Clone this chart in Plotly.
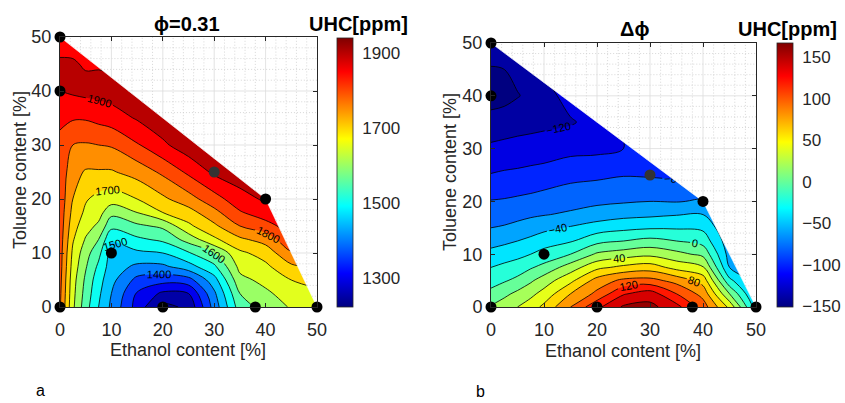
import numpy as np
import plotly.graph_objects as go

# ------------------------------------------------------------------ data
ethanol = [0, 2.5, 5, 7.5, 10, 15, 20, 25, 30, 35, 40, 45, 50]
toluene = [0, 2.5, 5, 7.5, 10, 12.5, 15, 17.5, 20, 25, 30, 35, 40, 45, 50]

# UHC [ppm] at phi = 0.31 (rows: toluene, columns: ethanol)
uhc_phi031 = [
    [1805, 1660, 1570, 1500, 1440, 1330, 1235, 1260, 1420, 1575, 1620, 1655, 1680],
    [1810, 1665, 1580, 1510, 1450, 1345, 1290, 1300, 1440, 1600, 1640, 1675, 1690],
    [1815, 1670, 1590, 1520, 1465, 1385, 1370, 1380, 1480, 1635, 1665, 1700, 1715],
    [1820, 1680, 1605, 1540, 1475, 1440, 1440, 1480, 1540, 1665, 1690, 1740, 1760],
    [1822, 1690, 1620, 1565, 1480, 1490, 1500, 1545, 1600, 1690, 1720, 1795, 1800],
    [1825, 1705, 1645, 1600, 1505, 1540, 1560, 1620, 1690, 1740, 1770, 1840, 1840],
    [1828, 1720, 1670, 1640, 1565, 1590, 1610, 1690, 1740, 1800, 1830, 1875, 1875],
    [1830, 1735, 1690, 1670, 1615, 1650, 1700, 1730, 1785, 1845, 1878, 1900, 1900],
    [1832, 1750, 1705, 1685, 1675, 1700, 1740, 1780, 1830, 1880, 1908, 1920, 1920],
    [1835, 1768, 1745, 1745, 1745, 1770, 1810, 1860, 1910, 1930, 1930, 1930, 1930],
    [1840, 1800, 1795, 1800, 1805, 1845, 1890, 1930, 1935, 1935, 1930, 1930, 1930],
    [1858, 1855, 1855, 1865, 1875, 1905, 1935, 1935, 1935, 1935, 1930, 1930, 1930],
    [1900, 1908, 1915, 1918, 1925, 1930, 1935, 1935, 1935, 1935, 1930, 1930, 1930],
    [1908, 1905, 1895, 1895, 1890, 1925, 1930, 1930, 1930, 1930, 1930, 1930, 1930],
    [1875, 1880, 1880, 1890, 1900, 1920, 1930, 1930, 1930, 1930, 1930, 1930, 1930],
]

# Delta-phi UHC [ppm]
uhc_dphi = [
    [22, 31, 40, 50, 65, 100, 135, 163, 166, 147, 110, 55, -30],
    [6, 15, 25, 35, 47, 80, 105, 138, 150, 120, 93, 20, -45],
    [-8, -2, 5, 17, 30, 55, 88, 105, 107, 93, 72, -15, -50],
    [-20, -15, -10, -2, 6, 30, 55, 65, 70, 53, 42, -40, -52],
    [-34, -30, -26, -20, -13, 0, 23, 30, 35, 26, 15, -48, -55],
    [-47, -44, -40, -35, -29, -22, -6, 0, 6, 0, -8, -52, -58],
    [-60, -58, -55, -50, -45, -38, -30, -25, -22, -22, -24, -58, -62],
    [-70, -68, -65, -63, -61, -57, -51, -46, -44, -41, -40, -60, -66],
    [-79, -78, -76, -74, -71, -67, -64, -62, -60, -61, -58, -66, -70],
    [-99, -97, -96, -94, -92, -86, -84, -81, -82, -83, -78, -80, -80],
    [-116, -114, -112, -111, -110, -106, -105, -100, -92, -90, -88, -88, -90],
    [-133, -131, -129, -127, -125, -122, -113, -97, -95, -95, -95, -95, -95],
    [-148, -146, -141, -136, -128, -112, -110, -100, -100, -100, -100, -100, -100],
    [-142, -140, -135, -133, -118, -115, -110, -105, -100, -100, -100, -100, -100],
    [-125, -127, -125, -128, -120, -118, -110, -105, -100, -100, -100, -100, -100],
]

# measured blends
sample_ethanol = [0, 0, 0, 10, 20, 30, 38, 40, 50]
sample_toluene = [0, 40, 50, 10, 0, 25, 0, 20, 0]

axis_ticks = [0, 10, 20, 30, 40, 50]
cbar_ticks_a = [1300, 1500, 1700, 1900]
cbar_ticks_b = [-150, -100, -50, 0, 50, 100, 150]
clim_a = [1222, 1940]
clim_b = [-151, 167]
levels_a = [1250, 1900, 50]
levels_b = [-140, 160, 20]

# ------------------------------------------------------------------ style helpers
W, H = 845, 403
FONT = "Liberation Sans, Arial, Helvetica, sans-serif"
AXC = "#262626"


def px(xp):
    return xp / W


def py(yp):
    return 1 - yp / H


def jet(t):
    t = min(max(t, 0.0), 1.0)
    r = min(max(min(4 * t - 1.5, -4 * t + 4.5), 0), 1)
    g = min(max(min(4 * t - 0.5, -4 * t + 3.5), 0), 1)
    b = min(max(min(4 * t + 0.5, -4 * t + 2.5), 0), 1)
    return "rgb(%d,%d,%d)" % (round(r * 255), round(g * 255), round(b * 255))


jet_scale = [[i / 64, jet(i / 64)] for i in range(65)]


def band_scale(levels, clim):
    # plotly fills band [L, L+cs] with colour at (L + cs/2) over domain
    # [start - cs/2, end + cs/2]; remap so each band gets jet(lower level)
    s0, s1, cs = levels
    nc = int(round((s1 - s0) / cs)) + 1
    out = []
    for j in range(nc + 1):
        L = s0 - cs + j * cs
        out.append([j / nc, jet((L - clim[0]) / (clim[1] - clim[0]))])
    return out


def convex_upper_chain(xs, ys):
    pts = sorted(set(zip(xs, ys)))

    def cross(o, a, b):
        return (a[0] - o[0]) * (b[1] - o[1]) - (a[1] - o[1]) * (b[0] - o[0])

    upper = []
    for p in reversed(pts):
        while len(upper) >= 2 and cross(upper[-2], upper[-1], p) <= 0:
            upper.pop()
        upper.append(p)
    xmin = min(xs)
    ytop = max(y for x, y in pts if x == xmin)
    chain = []
    for p in upper:
        chain.append(p)
        if p == (xmin, ytop):
            break
    return chain  # from bottom-right to top-left


fig = go.Figure()

panels = [
    dict(z=uhc_phi031, levels=levels_a, clim=clim_a, ticks=cbar_ticks_a,
         xa="x", ya="y", cbx=337, cbtop=38),
    dict(z=uhc_dphi, levels=levels_b, clim=clim_b, ticks=cbar_ticks_b,
         xa="x2", ya="y2", cbx=777, cbtop=43),
]
YBOT = 307

chain = convex_upper_chain(sample_ethanol, sample_toluene)
xmax, ymax = axis_ticks[-1], axis_ticks[-1]
cx = [p[0] for p in chain][::-1]
cy = [p[1] for p in chain][::-1]

for P in panels:
    s0, s1, cs = P["levels"]
    # hidden heatmap only supplies the continuous colour bar
    fig.add_trace(go.Heatmap(
        x=ethanol, y=toluene, z=P["z"], colorscale=jet_scale,
        zmin=P["clim"][0], zmax=P["clim"][1], hoverinfo="skip",
        xaxis=P["xa"], yaxis=P["ya"], showscale=True,
        colorbar=dict(
            x=px(P["cbx"]), xanchor="left", xpad=0, ypad=0,
            y=py((P["cbtop"] + YBOT) / 2), yanchor="middle",
            len=(YBOT - P["cbtop"]) / H, lenmode="fraction",
            thickness=16, thicknessmode="pixels",
            outlinewidth=0.8, outlinecolor=AXC,
            tickvals=P["ticks"], ticks="outside", ticklen=6,
            tickcolor="rgba(0,0,0,0)",
            tickfont=dict(family=FONT, size=17, color=AXC)),
    ))
    # filled bands
    fig.add_trace(go.Contour(
        x=ethanol, y=toluene, z=P["z"], autocontour=False,
        contours=dict(start=s0, end=s1, size=cs, coloring="fill"),
        colorscale=band_scale(P["levels"], P["clim"]), showscale=False,
        line=dict(width=0), hoverinfo="skip",
        xaxis=P["xa"], yaxis=P["ya"]))
    # unlabelled lines
    fig.add_trace(go.Contour(
        x=ethanol, y=toluene, z=P["z"], autocontour=False,
        contours=dict(start=s0, end=s1, size=2 * cs, coloring="none"),
        showscale=False, line=dict(width=0.8, color="black"),
        hoverinfo="skip", xaxis=P["xa"], yaxis=P["ya"]))
    # labelled lines
    fig.add_trace(go.Contour(
        x=ethanol, y=toluene, z=P["z"], autocontour=False,
        contours=dict(start=s0 + cs, end=s1, size=2 * cs, coloring="none",
                      showlabels=True,
                      labelfont=dict(family=FONT, size=11, color="black")),
        showscale=False, line=dict(width=0.8, color="black"),
        hoverinfo="skip", xaxis=P["xa"], yaxis=P["ya"]))

    # white area outside the sampled composition hull
    mx = cx + [xmax + 2, xmax + 2, cx[0]]
    my = cy + [cy[-1], ymax + 2, ymax + 2]
    fig.add_trace(go.Scatter(
        x=mx, y=my, fill="toself", fillcolor="white", mode="lines",
        line=dict(width=0.6, color="white"), hoverinfo="skip",
        xaxis=P["xa"], yaxis=P["ya"]))

    # grid lines visible only in the empty region
    for step, color, dash in [(2, "rgb(205,205,205)", "1px,2px"),
                              (10, "rgb(220,220,220)", "solid")]:
        gx, gy = [], []
        for c in np.arange(step, xmax, step):
            if step == 2 and c % 10 == 0:
                continue
            yb = float(np.interp(c, cx, cy))
            if yb < ymax:
                gx += [c, c, None]
                gy += [yb, ymax, None]
            xb = float(np.interp(c, cy[::-1], cx[::-1]))
            if xb < xmax:
                gx += [xb, xmax, None]
                gy += [c, c, None]
        fig.add_trace(go.Scatter(
            x=gx, y=gy, mode="lines", hoverinfo="skip",
            line=dict(width=0.8, color=color, dash=dash),
            xaxis=P["xa"], yaxis=P["ya"]))

    shade = ["#333333" if (a, b) == (30, 25) else "black"
             for a, b in zip(sample_ethanol, sample_toluene)]
    fig.add_trace(go.Scatter(
        x=sample_ethanol, y=sample_toluene, mode="markers",
        marker=dict(size=11, color=shade, line=dict(width=0)),
        cliponaxis=False, hoverinfo="skip",
        xaxis=P["xa"], yaxis=P["ya"]))

axis_common = dict(
    range=[axis_ticks[0], axis_ticks[-1]], tickvals=axis_ticks,
    showgrid=False, zeroline=False, showline=True, linecolor=AXC,
    linewidth=1, mirror="ticks", ticks="inside", ticklen=4,
    tickcolor=AXC, tickwidth=1, automargin=False,
    tickfont=dict(family=FONT, size=18, color=AXC))

fig.update_layout(
    template="none",
    width=W, height=H,
    margin=dict(l=0, r=0, t=0, b=0, pad=0, autoexpand=False),
    paper_bgcolor="white", plot_bgcolor="white", showlegend=False,
    xaxis=dict(domain=[px(60), px(317)], anchor="y",
               ticklabelstandoff=6, **axis_common),
    yaxis=dict(domain=[py(YBOT), py(37)], anchor="x",
               ticklabelstandoff=4, **axis_common),
    xaxis2=dict(domain=[px(491), px(756)], anchor="y2",
                ticklabelstandoff=6, **axis_common),
    yaxis2=dict(domain=[py(YBOT), py(43)], anchor="x2",
                ticklabelstandoff=4, **axis_common),
)

texts = [
    ("<b>ϕ=0.31</b>", 187, 24, 20, 0),
    ("<b>UHC[ppm]</b>", 358, 24, 20, 0),
    ("<b>Δϕ</b>", 634, 29, 20, 0),
    ("<b>UHC[ppm]</b>", 787, 29, 20, 0),
    ("Ethanol content [%]", 188, 350, 18, 0),
    ("Ethanol content [%]", 623, 351, 18, 0),
    ("Toluene content [%]", 20, 170, 18, -90),
    ("Toluene content [%]", 450, 172, 18, -90),
    ("a", 40, 390, 16, 0),
    ("b", 480, 391, 16, 0),
]
for t, xx, yy, sz, ang in texts:
    fig.add_annotation(text=t, x=px(xx), y=py(yy), xref="paper", yref="paper",
                       xanchor="center", yanchor="middle", showarrow=False,
                       textangle=ang,
                       font=dict(family=FONT, size=sz,
                                 color="black" if sz != 18 else AXC))

fig.write_html("out.html",
               post_script="document.body.style.margin='0';"
                           "document.body.style.overflow='hidden';")
